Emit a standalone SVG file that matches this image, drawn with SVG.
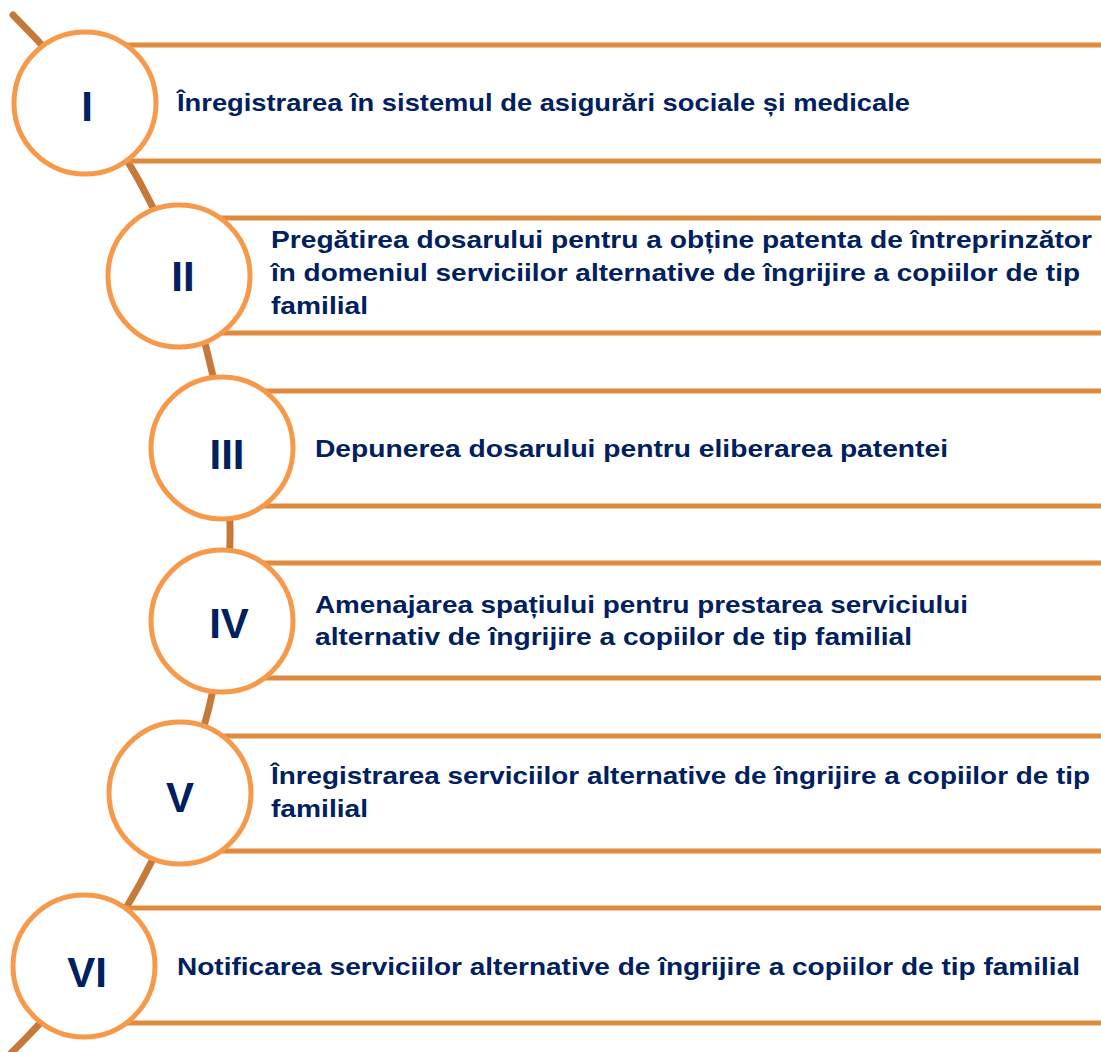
<svg xmlns="http://www.w3.org/2000/svg" width="1101" height="1052" viewBox="0 0 1101 1052">
<style>
.arc{fill:none;stroke:#C57A3A;stroke-width:7;stroke-linecap:round}
.band{stroke:#E08A40;stroke-width:5}
.circ{fill:#FFFFFF;stroke:#F7994A;stroke-width:5}
.num{font-family:"Liberation Sans",Arial,sans-serif;font-weight:bold;font-size:42px;fill:#002060;text-anchor:middle}
.txt{font-family:"Liberation Sans",Arial,sans-serif;font-weight:bold;font-size:24px;fill:#002060}
</style>
<rect width="1101" height="1052" fill="#FFFFFF"/>
<g id="connectors">
<path class="arc" d="M 13 15 A 727 727 0 0 1 4 1060"/>
<line class="band" x1="85" y1="45" x2="1101" y2="45"/>
<line class="band" x1="85" y1="161" x2="1101" y2="161"/>
<line class="band" x1="179" y1="218" x2="1101" y2="218"/>
<line class="band" x1="179" y1="333" x2="1101" y2="333"/>
<line class="band" x1="222" y1="391" x2="1101" y2="391"/>
<line class="band" x1="222" y1="506" x2="1101" y2="506"/>
<line class="band" x1="222" y1="563" x2="1101" y2="563"/>
<line class="band" x1="222" y1="678" x2="1101" y2="678"/>
<line class="band" x1="180" y1="736" x2="1101" y2="736"/>
<line class="band" x1="180" y1="851" x2="1101" y2="851"/>
<line class="band" x1="84" y1="908" x2="1101" y2="908"/>
<line class="band" x1="84" y1="1023" x2="1101" y2="1023"/>
</g>
<g id="step1">
<circle class="circ" cx="85" cy="103" r="71"/>
<text class="num" x="87" y="121">I</text>
<text class="txt" x="177" y="111" textLength="733" lengthAdjust="spacingAndGlyphs">Înregistrarea în sistemul de asigurări sociale și medicale</text>
</g>
<g id="step2">
<circle class="circ" cx="179" cy="276" r="71"/>
<text class="num" x="183" y="291">II</text>
<text class="txt" x="271" y="248" textLength="821" lengthAdjust="spacingAndGlyphs">Pregătirea dosarului pentru a obține patenta de întreprinzător</text>
<text class="txt" x="271" y="281" textLength="809" lengthAdjust="spacingAndGlyphs">în domeniul serviciilor alternative de îngrijire a copiilor de tip</text>
<text class="txt" x="271" y="314" textLength="97" lengthAdjust="spacingAndGlyphs">familial</text>
</g>
<g id="step3">
<circle class="circ" cx="222" cy="448" r="71"/>
<text class="num" x="227" y="469">III</text>
<text class="txt" x="315" y="457" textLength="633" lengthAdjust="spacingAndGlyphs">Depunerea dosarului pentru eliberarea patentei</text>
</g>
<g id="step4">
<circle class="circ" cx="222" cy="621" r="71"/>
<text class="num" x="229" y="638">IV</text>
<text class="txt" x="315" y="613" textLength="653" lengthAdjust="spacingAndGlyphs">Amenajarea spațiului pentru prestarea serviciului</text>
<text class="txt" x="315" y="645" textLength="597" lengthAdjust="spacingAndGlyphs">alternativ de îngrijire a copiilor de tip familial</text>
</g>
<g id="step5">
<circle class="circ" cx="180" cy="793" r="71"/>
<text class="num" x="180" y="812">V</text>
<text class="txt" x="271" y="784" textLength="819" lengthAdjust="spacingAndGlyphs">Înregistrarea serviciilor alternative de îngrijire a copiilor de tip</text>
<text class="txt" x="271" y="817" textLength="97" lengthAdjust="spacingAndGlyphs">familial</text>
</g>
<g id="step6">
<circle class="circ" cx="84" cy="966" r="71"/>
<text class="num" x="87" y="987">VI</text>
<text class="txt" x="177" y="975" textLength="903" lengthAdjust="spacingAndGlyphs">Notificarea serviciilor alternative de îngrijire a copiilor de tip familial</text>
</g>
</svg>
